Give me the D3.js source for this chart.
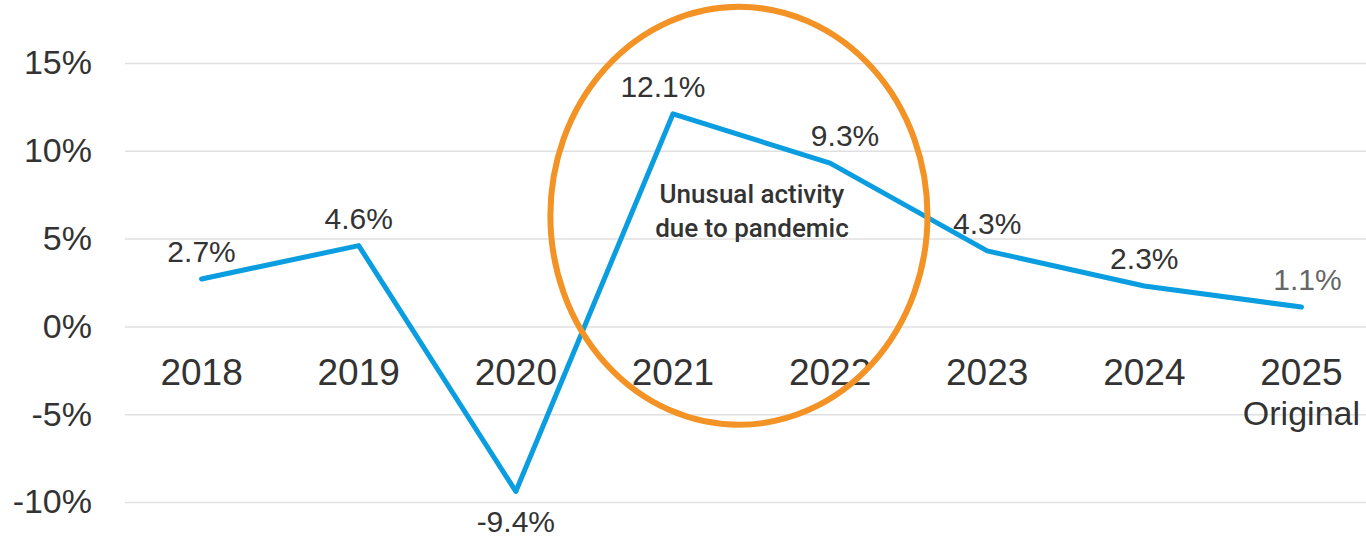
<!DOCTYPE html>
<html lang="en">
<head>
    <meta charset="UTF-8">
    <title>Growth by Year</title>
    <script src="https://d3js.org/d3.v7.min.js"></script>
    <style>
        body { margin: 0; background: #fff; }
        .grid line { stroke: #e0e0e0; stroke-width: 1.5px; }
        .axis-label { font-family: "Liberation Sans", Arial, sans-serif; fill: #333; }
        .value-label { font-family: "Liberation Sans", Arial, sans-serif; fill: #333; font-size: 30px; }
        .note { font-family: Roboto, "Liberation Sans", sans-serif; font-weight: 500; font-size: 26px; fill: #333; }
    </style>
</head>
<body>
    <div id="chart"></div>

    <script>
        // chart data
        const years = ["2018", "2019", "2020", "2021", "2022", "2023", "2024", "2025"];
        const growth = [2.7, 4.6, -9.4, 12.1, 9.3, 4.3, 2.3, 1.1];
        const yTicks = [-10, -5, 0, 5, 10, 15];
        const subLabels = ["", "", "", "", "", "", "", "Original"];
        const noteLines = ["Unusual activity", "due to pandemic"];

        const width = 1366, height = 538;
        const left = 123, right = 1380;

        const svg = d3.select("#chart").append("svg")
            .attr("width", width)
            .attr("height", height);

        const x = d3.scalePoint()
            .domain(years)
            .range([left, right])
            .padding(0.5);

        const y = d3.scaleLinear()
            .domain([-10, 15])
            .range([502, 63]);

        // gridlines + y labels
        const yAxis = svg.append("g")
            .attr("class", "grid")
            .attr("transform", `translate(125,0)`)
            .call(d3.axisLeft(y)
                .tickValues(yTicks)
                .tickSize(-(width - 125))
                .tickPadding(33)
                .tickFormat(d => d + "%"));
        yAxis.select(".domain").remove();
        yAxis.selectAll("text")
            .attr("class", "axis-label")
            .style("font-size", "34px")
            .attr("fill", "#333");

        // category labels
        svg.append("g")
            .selectAll("text")
            .data(years)
            .join("text")
            .attr("class", "axis-label")
            .attr("x", d => x(d))
            .attr("y", 385)
            .attr("text-anchor", "middle")
            .style("font-size", "37px")
            .text(d => d);

        svg.append("g")
            .selectAll("text")
            .data(years.filter((d, i) => subLabels[i]))
            .join("text")
            .attr("class", "axis-label")
            .attr("x", d => x(d))
            .attr("y", 425)
            .attr("text-anchor", "middle")
            .style("font-size", "34px")
            .text(d => subLabels[years.indexOf(d)]);

        // the line
        const points = years.map((d, i) => ({ year: d, value: growth[i] }));
        svg.append("path")
            .datum(points)
            .attr("fill", "none")
            .attr("stroke", "#0a9ddf")
            .attr("stroke-width", 5)
            .attr("stroke-linejoin", "round")
            .attr("stroke-linecap", "round")
            .attr("d", d3.line().x(d => x(d.year)).y(d => y(d.value)));

        // value labels (small nudges to keep them off the line)
        const nudgeX = [0, 0, 0, -10, 15, 0, 0, 6];
        svg.append("g")
            .selectAll("text")
            .data(points)
            .join("text")
            .attr("class", "value-label")
            .attr("x", (d, i) => x(d.year) + nudgeX[i])
            .attr("y", d => d.value < 0 ? y(d.value) + 41 : y(d.value) - 17)
            .attr("text-anchor", "middle")
            .style("fill", (d, i) => i === years.length - 1 ? "#666" : null)
            .text(d => d.value.toFixed(1) + "%");

        // pandemic annotation
        const step = x.step();
        const cx = x("2021") + step * 0.42;
        svg.append("ellipse")
            .attr("cx", cx)
            .attr("cy", y(6.3))
            .attr("rx", step * 1.2)
            .attr("ry", y(-5.6) - y(6.3))
            .attr("fill", "none")
            .attr("stroke", "#f39325")
            .attr("stroke-width", 6);

        svg.append("g")
            .selectAll("text")
            .data(noteLines)
            .join("text")
            .attr("class", "note")
            .attr("x", cx + 13)
            .attr("y", (d, i) => 203 + i * 34)
            .attr("text-anchor", "middle")
            .text(d => d);
    </script>
</body>
</html>
